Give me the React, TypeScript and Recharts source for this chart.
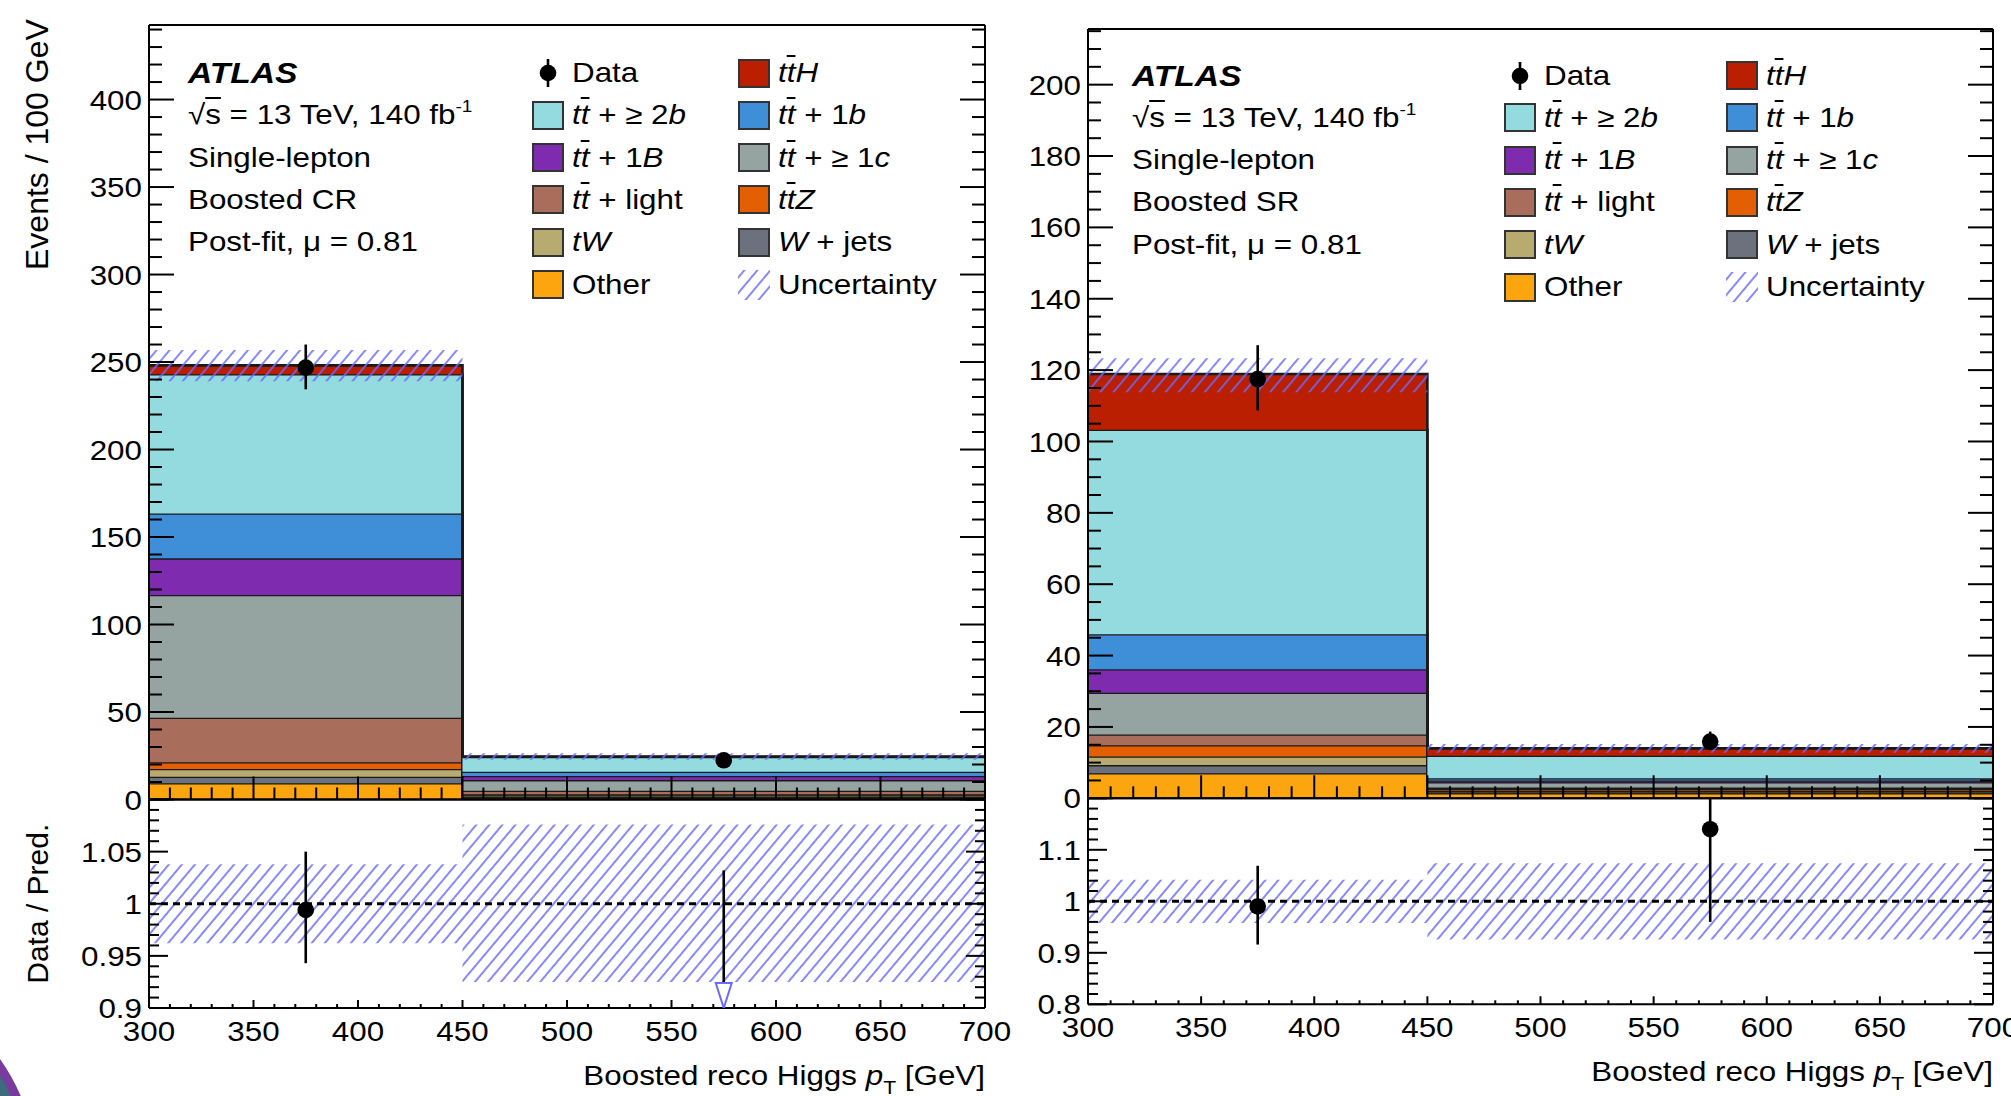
import React from "react";
import {
  Area,
  ComposedChart,
  ErrorBar,
  ReferenceLine,
  Scatter,
  XAxis,
  YAxis,
} from "recharts";

const PAGE_W = 2011;
const PAGE_H = 1096;
const FONT = '"Liberation Sans", Arial, Helvetica, sans-serif';
const STRETCH = 1.12;
const ARROW_H = 25;

// binning shared by both regions
const binEdges = [300, 450, 700];
const binCentres = [375, 575];
const xMajorTicks = [300, 350, 400, 450, 500, 550, 600, 650, 700];

// Boosted CR, yields per bin (300-450, 450-700), stack order bottom -> top
const crOther = [9.3, 1.2];
const crWjets = [3.7, 0.4];
const crTW = [4.4, 0.8];
const crTtZ = [3.9, 0.6];
const crTtLight = [25.4, 2.0];
const crTtC = [70.2, 6.1];
const crTt1B = [20.9, 2.3];
const crTt1b = [25.7, 2.5];
const crTt2b = [79.5, 8.4];
const crTtH = [5.1, 0.2];
const crData = [246.8, 22.4];
const crDataErrLo = [12.4, 3.4];
const crDataErrHi = [13.2, 3.3];
const crBandLo = [239.0, 22.7];
const crBandHi = [256.9, 26.4];
const crRatio = [0.994, 0.89];
const crRatioErrLo = [0.051, 0.14];
const crRatioErrHi = [0.056, 0.142];
const crRatioBandLo = [0.962, 0.925];
const crRatioBandHi = [1.038, 1.076];
const crYTicks = [0, 50, 100, 150, 200, 250, 300, 350, 400];
const crRatioTicks = [0.9, 0.95, 1, 1.05];

// Boosted SR
const srOther = [7.0, 1.4];
const srWjets = [2.3, 0.3];
const srTW = [2.4, 0.4];
const srTtZ = [3.2, 0.5];
const srTtLight = [3.0, 0.4];
const srTtC = [11.7, 1.5];
const srTt1B = [6.6, 0.5];
const srTt1b = [9.8, 0.6];
const srTt2b = [57.3, 6.35];
const srTtH = [15.6, 2.05];
const srData = [117.5, 15.9];
const srDataErrLo = [8.8, 2.4];
const srDataErrHi = [9.5, 2.8];
const srBandLo = [113.8, 12.8];
const srBandHi = [123.3, 15.2];
const srRatio = [0.99, 1.14];
const srRatioErrLo = [0.074, 0.18];
const srRatioErrHi = [0.079, 0.18];
const srRatioBandLo = [0.958, 0.926];
const srRatioBandHi = [1.042, 1.074];
const srYTicks = [0, 20, 40, 60, 80, 100, 120, 140, 160, 180, 200];
const srRatioTicks = [0.8, 0.9, 1, 1.1];

const TT = () => (
  <>
    <i>t</i>
    <i style={{ textDecoration: "overline" }}>t</i>
  </>
);

type Process = { key: string; color: string; label: React.ReactNode };

const processes: Process[] = [
  { key: "other", color: "#fda50f", label: "Other" },
  { key: "wjets", color: "#6c717e", label: <><i>W</i> + jets</> },
  { key: "tw", color: "#b7ab70", label: <i>tW</i> },
  { key: "ttz", color: "#e35f02", label: <><TT /><i>Z</i></> },
  { key: "ttlight", color: "#a86d5b", label: <><TT /> + light</> },
  { key: "ttc", color: "#95a4a1", label: <><TT /> + ≥ 1<i>c</i></> },
  { key: "tt1B", color: "#7e2bb0", label: <><TT /> + 1<i>B</i></> },
  { key: "tt1b", color: "#3e8fd8", label: <><TT /> + 1<i>b</i></> },
  { key: "tt2b", color: "#94dbdf", label: <><TT /> + ≥ 2<i>b</i></> },
  { key: "tth", color: "#ba1f02", label: <><TT /><i>H</i></> },
];

const legendOrder = ["data", "tth", "tt2b", "tt1b", "tt1B", "ttc", "ttlight", "ttz", "tw", "wjets", "other", "unc"];

type Region = {
  name: string;
  stack: number[][];
  data: number[];
  errLo: number[];
  errHi: number[];
  bandLo: number[];
  bandHi: number[];
  ratio: number[];
  ratioErrLo: number[];
  ratioErrHi: number[];
  ratioBandLo: number[];
  ratioBandHi: number[];
  yTicks: number[];
  yMax: number;
  yMinorStep: number;
  ratioTicks: number[];
  ratioDomain: [number, number];
  ratioMajorStep: number;
  ratioMinorStep: number;
};

const crRegion: Region = {
  name: "Boosted CR",
  stack: [crOther, crWjets, crTW, crTtZ, crTtLight, crTtC, crTt1B, crTt1b, crTt2b, crTtH],
  data: crData,
  errLo: crDataErrLo,
  errHi: crDataErrHi,
  bandLo: crBandLo,
  bandHi: crBandHi,
  ratio: crRatio,
  ratioErrLo: crRatioErrLo,
  ratioErrHi: crRatioErrHi,
  ratioBandLo: crRatioBandLo,
  ratioBandHi: crRatioBandHi,
  yTicks: crYTicks,
  yMax: 442.6,
  yMinorStep: 10,
  ratioTicks: crRatioTicks,
  ratioDomain: [0.9, 1.1],
  ratioMajorStep: 0.05,
  ratioMinorStep: 0.01,
};

const srRegion: Region = {
  name: "Boosted SR",
  stack: [srOther, srWjets, srTW, srTtZ, srTtLight, srTtC, srTt1B, srTt1b, srTt2b, srTtH],
  data: srData,
  errLo: srDataErrLo,
  errHi: srDataErrHi,
  bandLo: srBandLo,
  bandHi: srBandHi,
  ratio: srRatio,
  ratioErrLo: srRatioErrLo,
  ratioErrHi: srRatioErrHi,
  ratioBandLo: srRatioBandLo,
  ratioBandHi: srRatioBandHi,
  yTicks: srYTicks,
  yMax: 215.6,
  yMinorStep: 5,
  ratioTicks: srRatioTicks,
  ratioDomain: [0.8, 1.2],
  ratioMajorStep: 0.1,
  ratioMinorStep: 0.02,
};

type Frame = {
  left: number;
  right: number;
  top: number;
  split: number;
  bottom: number;
  textX: number;
  col1: number;
  col2: number;
  rowY: number;
};

const crFrame: Frame = { left: 149, right: 985, top: 25, split: 799.5, bottom: 1008, textX: 188, col1: 532, col2: 738, rowY: 73 };
const srFrame: Frame = { left: 1088, right: 1993, top: 29, split: 798.3, bottom: 1004.3, textX: 1132, col1: 1504, col2: 1726, rowY: 75.5 };
const ROW_H = 42.3;

function range(lo: number, hi: number, step: number) {
  const out: number[] = [];
  const n = Math.floor((hi - lo) / step + 1e-6);
  for (let i = 0; i <= n; i++) out.push(Number((lo + i * step).toFixed(4)));
  return out;
}

const near = (a: number, b: number) => Math.abs(a - b) < 1e-6;
const fmt = (v: number) => String(Number(v.toFixed(3)));
const clamp = (v: number, d: [number, number]) => Math.min(d[1], Math.max(d[0], v));

type Side = "bottom" | "top" | "left" | "right";
type TickCfg = { side: Side; majors: number[]; labels?: number[]; majorLen: number; minorLen: number };

function renderTick(p: any, cfg: TickCfg) {
  const x = Number(p.x);
  const y = Number(p.y);
  const v = Number(p.payload.value);
  const major = cfg.majors.some((m) => near(m, v));
  const len = major ? cfg.majorLen : cfg.minorLen;
  const d =
    cfg.side === "bottom" ? [0, -len] : cfg.side === "top" ? [0, len] : cfg.side === "left" ? [len, 0] : [-len, 0];
  const showLabel = !!cfg.labels && cfg.labels.some((m) => near(m, v));
  let label = null;
  if (showLabel && cfg.side === "left") {
    label = (
      <text transform={`translate(${x - 7},${y}) scale(${STRETCH},1)`} textAnchor="end" dy="0.36em" fontSize={28} fontFamily={FONT} fill="#000">
        {fmt(v)}
      </text>
    );
  } else if (showLabel && cfg.side === "bottom") {
    label = (
      <text transform={`translate(${x},${y + 33}) scale(${STRETCH},1)`} textAnchor="middle" fontSize={28} fontFamily={FONT} fill="#000">
        {fmt(v)}
      </text>
    );
  }
  return (
    <g>
      <line x1={x} y1={y} x2={x + d[0]} y2={y + d[1]} stroke="#000" strokeWidth={2} />
      {label}
    </g>
  );
}

const axisLineStyle = { stroke: "#000", strokeWidth: 2 };

type AxesOpts = {
  xLabels?: number[];
  xMajorLen: number;
  xMinorLen: number;
  yDomain: [number, number];
  yTicks: number[];
  yMajors: number[];
  yLabels: number[];
  yMajorLen: number;
  yMinorLen: number;
};

// axes are 1px thick (a 0px axis is not drawn), margins below take that pixel back
function frameAxes(o: AxesOpts) {
  const xDomain: [number, number] = [binEdges[0], binEdges[binEdges.length - 1]];
  const xTicks = range(xDomain[0], xDomain[1], 10);
  const common = { type: "number" as const, allowDataOverflow: true, interval: 0, tickSize: 0, tickMargin: 0, tickLine: false, axisLine: axisLineStyle };
  return [
    <XAxis
      key="xb"
      xAxisId={0}
      dataKey="x"
      domain={xDomain}
      ticks={xTicks}
      height={1}
      {...common}
      tick={(p: any) => renderTick(p, { side: "bottom", majors: xMajorTicks, labels: o.xLabels, majorLen: o.xMajorLen, minorLen: o.xMinorLen })}
    />,
    <XAxis
      key="xt"
      xAxisId="top"
      orientation="top"
      domain={xDomain}
      ticks={xTicks}
      height={1}
      {...common}
      tick={(p: any) => renderTick(p, { side: "top", majors: xMajorTicks, majorLen: o.xMajorLen, minorLen: o.xMinorLen })}
    />,
    <YAxis
      key="yl"
      yAxisId={0}
      domain={o.yDomain}
      ticks={o.yTicks}
      width={1}
      {...common}
      tick={(p: any) => renderTick(p, { side: "left", majors: o.yMajors, labels: o.yLabels, majorLen: o.yMajorLen, minorLen: o.yMinorLen })}
    />,
    <YAxis
      key="yr"
      yAxisId="right"
      orientation="right"
      domain={o.yDomain}
      ticks={o.yTicks}
      width={1}
      {...common}
      tick={(p: any) => renderTick(p, { side: "right", majors: o.yMajors, majorLen: o.yMajorLen, minorLen: o.yMinorLen })}
    />,
  ];
}

const dataDot = (p: any) => <circle cx={p.cx} cy={p.cy} r={8.3} fill="#000" />;
const ratioMark = (p: any) =>
  p.payload && p.payload.below ? (
    <path
      d={`M${p.cx},${p.cy} L${p.cx - 8},${p.cy - ARROW_H} L${p.cx + 8},${p.cy - ARROW_H} Z`}
      fill="#fff"
      stroke="#6a6aff"
      strokeWidth={2}
    />
  ) : (
    <circle cx={p.cx} cy={p.cy} r={8.3} fill="#000" />
  );

function Panel({ region, frame }: { region: Region; frame: Frame }) {
  const nBins = binCentres.length;
  const upperRows = binEdges.map((x, i) => {
    const b = Math.min(i, nBins - 1);
    const row: Record<string, any> = { x, band: [region.bandLo[b], region.bandHi[b]] };
    processes.forEach((p, k) => {
      row[p.key] = region.stack[k][b];
    });
    return row;
  });
  const ratioRows = binEdges.map((x, i) => {
    const b = Math.min(i, nBins - 1);
    return { x, band: [region.ratioBandLo[b], region.ratioBandHi[b]] };
  });
  const points = binCentres.map((x, b) => ({ x, y: region.data[b], err: [region.errLo[b], region.errHi[b]] }));
  // ratio points are held inside the frame as ROOT does: off-scale points become an arrow
  const dom = region.ratioDomain;
  const arrowSpan = (ARROW_H / (frame.bottom - frame.split)) * (dom[1] - dom[0]);
  const ratioPoints = binCentres.map((x, b) => {
    const v = region.ratio[b];
    const y = clamp(v, dom);
    const lo = clamp(v - region.ratioErrLo[b], dom);
    const hi = clamp(v + region.ratioErrHi[b], dom);
    const below = v < dom[0];
    // the bar of an off-scale point stops at the top of its arrow
    return { x, y, err: [below ? -arrowSpan : y - lo, hi - y], below };
  });

  const yMinor = range(0, region.yMax, region.yMinorStep);
  const yMajors = range(0, region.yMax, region.yTicks[1] - region.yTicks[0]);
  const rMinor = range(dom[0], dom[1], region.ratioMinorStep);
  const rMajors = range(dom[0], dom[1], region.ratioMajorStep);

  const upperMargin = { top: frame.top - 1, left: frame.left - 1, right: PAGE_W - frame.right - 1, bottom: PAGE_H - frame.split - 1 };
  const ratioMargin = { top: frame.split - 1, left: frame.left - 1, right: PAGE_W - frame.right - 1, bottom: PAGE_H - frame.bottom - 1 };

  return (
    <>
      <div style={{ position: "absolute", left: 0, top: 0 }}>
        <ComposedChart width={PAGE_W} height={PAGE_H} data={upperRows} margin={upperMargin}>
          {processes.map((p) => (
            <Area
              key={p.key}
              dataKey={p.key}
              stackId="mc"
              type="stepAfter"
              fill={p.color}
              fillOpacity={1}
              stroke="#1a1a1a"
              strokeWidth={2.6}
              dot={false}
              activeDot={false}
              isAnimationActive={false}
            />
          ))}
          <Area dataKey="band" type="stepAfter" fill="url(#hatchUnc)" fillOpacity={1} stroke="none" dot={false} activeDot={false} isAnimationActive={false} />
          <Scatter data={points} dataKey="y" shape={dataDot} isAnimationActive={false}>
            <ErrorBar dataKey="err" direction="y" width={0} stroke="#000" strokeWidth={2.6} />
          </Scatter>
          {frameAxes({
            xMajorLen: 23,
            xMinorLen: 12,
            yDomain: [0, region.yMax],
            yTicks: yMinor,
            yMajors,
            yLabels: region.yTicks,
            yMajorLen: 25,
            yMinorLen: 13,
          })}
        </ComposedChart>
      </div>
      <div style={{ position: "absolute", left: 0, top: 0 }}>
        <ComposedChart width={PAGE_W} height={PAGE_H} data={ratioRows} margin={ratioMargin}>
          <Area dataKey="band" type="stepAfter" fill="url(#hatchUnc)" fillOpacity={1} stroke="none" dot={false} activeDot={false} isAnimationActive={false} />
          <ReferenceLine y={1} stroke="#000" strokeWidth={3} strokeDasharray="7 5" />
          <Scatter data={ratioPoints} dataKey="y" shape={ratioMark} isAnimationActive={false}>
            <ErrorBar dataKey="err" direction="y" width={0} stroke="#000" strokeWidth={2.6} />
          </Scatter>
          {frameAxes({
            xLabels: xMajorTicks,
            xMajorLen: 8,
            xMinorLen: 4,
            yDomain: dom,
            yTicks: rMinor,
            yMajors: rMajors,
            yLabels: region.ratioTicks,
            yMajorLen: 19,
            yMinorLen: 10,
          })}
        </ComposedChart>
      </div>
      <LegendBlock region={region} frame={frame} />
    </>
  );
}

const lineStyle = (left: number, cy: number, size = 28): React.CSSProperties => ({
  position: "absolute",
  left,
  top: cy - 20,
  height: 40,
  lineHeight: "40px",
  fontSize: size,
  whiteSpace: "nowrap",
  transform: `scaleX(${STRETCH})`,
  transformOrigin: "left center",
  color: "#000",
});

function LegendBlock({ region, frame }: { region: Region; frame: Frame }) {
  const info: React.ReactNode[] = [
    <span style={{ fontWeight: "bold", fontStyle: "italic", fontSize: 30 }}>ATLAS</span>,
    <>
      √<span style={{ textDecoration: "overline" }}>s</span> = 13 TeV, 140 fb
      <span style={{ fontSize: 17, position: "relative", top: -12 }}>-1</span>
    </>,
    "Single-lepton",
    region.name,
    "Post-fit, μ = 0.81",
  ];
  return (
    <div style={{ position: "absolute", left: 0, top: 0, width: PAGE_W, height: PAGE_H, fontFamily: FONT }}>
      {info.map((t, i) => (
        <div key={`info${i}`} style={lineStyle(frame.textX, frame.rowY + i * ROW_H)}>
          {t}
        </div>
      ))}
      {legendOrder.map((key, i) => {
        const row = Math.floor(i / 2);
        const boxX = i % 2 === 0 ? frame.col1 : frame.col2;
        const cy = frame.rowY + row * ROW_H;
        let marker: React.ReactNode;
        let label: React.ReactNode;
        if (key === "data") {
          marker = (
            <svg width={32} height={30} style={{ position: "absolute", left: boxX, top: cy - 15 }}>
              <line x1={16} y1={1} x2={16} y2={29} stroke="#000" strokeWidth={2.6} />
              <circle cx={16} cy={15} r={8.3} fill="#000" />
            </svg>
          );
          label = "Data";
        } else if (key === "unc") {
          marker = (
            <svg width={32} height={30} style={{ position: "absolute", left: boxX, top: cy - 15 }}>
              <rect x={0} y={0} width={32} height={30} fill="url(#hatchUnc)" />
            </svg>
          );
          label = "Uncertainty";
        } else {
          const p = processes.find((q) => q.key === key)!;
          marker = (
            <div
              style={{
                position: "absolute",
                left: boxX,
                top: cy - 14.5,
                width: 32,
                height: 29,
                background: p.color,
                border: "2px solid #333",
                boxSizing: "border-box",
              }}
            />
          );
          label = p.label;
        }
        return (
          <React.Fragment key={key}>
            {marker}
            <div style={lineStyle(boxX + 40, cy)}>{label}</div>
          </React.Fragment>
        );
      })}
    </div>
  );
}

function AxisTitles() {
  const titles = [crFrame, srFrame].map((f, i) => (
    <text
      key={`xt${i}`}
      transform={`translate(${f.right},${f.bottom + 77}) scale(${STRETCH},1)`}
      textAnchor="end"
      fontSize={28}
      fontFamily={FONT}
      fill="#000"
    >
      Boosted reco Higgs <tspan fontStyle="italic">p</tspan>
      <tspan fontSize={19} dy={9}>T</tspan>
      <tspan dy={-9}> [GeV]</tspan>
    </text>
  ));
  return (
    <svg width={PAGE_W} height={PAGE_H} style={{ position: "absolute", left: 0, top: 0 }}>
      <text transform="translate(48,270) rotate(-90)" textAnchor="start" fontSize={32} fontFamily={FONT} fill="#000">
        Events / 100 GeV
      </text>
      <text transform={`translate(48,${(crFrame.split + crFrame.bottom) / 2}) rotate(-90)`} textAnchor="middle" fontSize={30} fontFamily={FONT} fill="#000">
        Data / Pred.
      </text>
      {titles}
    </svg>
  );
}

function PatternDefs() {
  return (
    <svg width={0} height={0} style={{ position: "absolute", left: 0, top: 0 }}>
      <defs>
        <pattern id="hatchUnc" patternUnits="userSpaceOnUse" width={10} height={10} patternTransform="rotate(40)">
          <line x1={5} y1={-1} x2={5} y2={11} stroke="#6a6aff" strokeWidth={1.6} />
        </pattern>
      </defs>
    </svg>
  );
}

export default function App() {
  return (
    <div
      style={{
        position: "fixed",
        left: 0,
        top: 0,
        width: PAGE_W,
        height: PAGE_H,
        overflow: "hidden",
        background: "#fff",
        fontFamily: FONT,
      }}
    >
      <PatternDefs />
      <div
        style={{
          position: "absolute",
          left: -363,
          top: 975,
          width: 400,
          height: 400,
          borderRadius: "50%",
          border: "9px solid #7a3b9f",
          background: "#3e6b7e",
          boxSizing: "border-box",
        }}
      />
      <Panel region={crRegion} frame={crFrame} />
      <Panel region={srRegion} frame={srFrame} />
      <AxisTitles />
    </div>
  );
}
